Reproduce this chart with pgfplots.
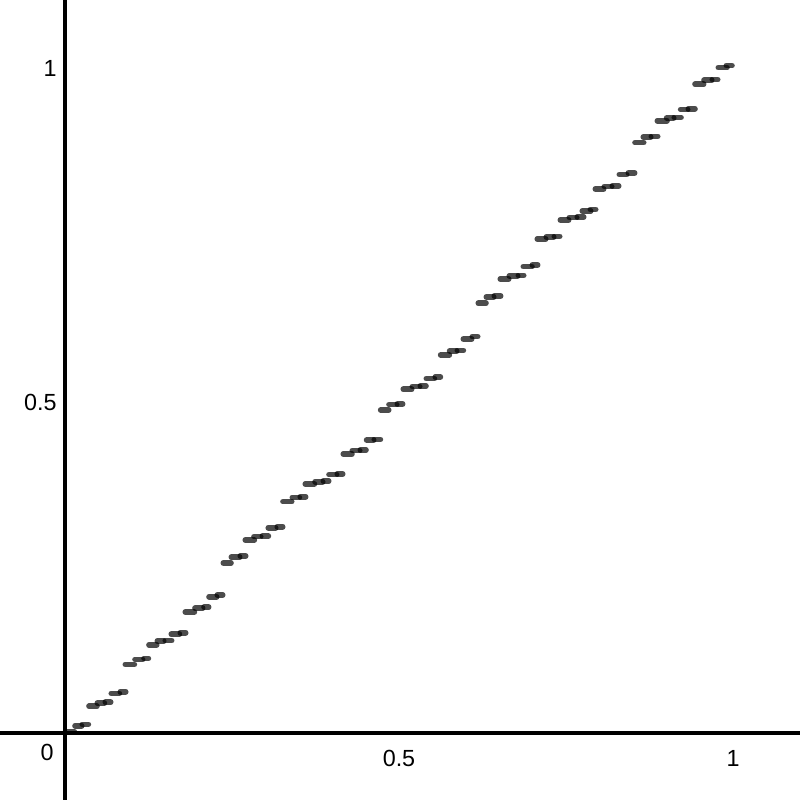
\documentclass[border=0pt]{standalone}
\usepackage{pgfplots}
\pgfplotsset{compat=1.18}
\usepackage{fontspec}
\setmainfont{Liberation Sans}

% one short horizontal step: x from, x to, y
\newcommand{\seg}[3]{\addplot[stepseg] coordinates {(#1,#3) (#2,#3)};}

\begin{document}
\begin{tikzpicture}
\begin{axis}[
  scale only axis,
  width=10cm, height=10cm,
  xmin=-0.0973, xmax=1.1003,
  ymin=-0.1003, ymax=1.0973,
  axis lines=middle,
  axis line style={-, black, line width=1.1pt},
  xtick={0.5,1}, ytick={0.5,1},
  xticklabels={0.5,1}, yticklabels={0.5,1},
  major tick length=0pt,
  tick label style={font=\fontsize{8.3}{10}\selectfont, inner sep=0pt},
  xticklabel style={anchor=center, yshift=-9pt},
  yticklabel style={anchor=east, xshift=-2.8pt, yshift=-1.2pt},
  clip=false,
  stepseg/.style={black, opacity=0.7, line width=2pt, line cap=round, mark=none},
]
\seg{0.0004}{0.0141}{0.0019}
\seg{0.0150}{0.0250}{0.0109}
\seg{0.0259}{0.0350}{0.0130}
\seg{0.0359}{0.0479}{0.0400}
\seg{0.0484}{0.0590}{0.0445}
\seg{0.0603}{0.0684}{0.0460}
\seg{0.0693}{0.0814}{0.0594}
\seg{0.0828}{0.0909}{0.0618}
\seg{0.0903}{0.1039}{0.1028}
\seg{0.1048}{0.1163}{0.1103}
\seg{0.1183}{0.1249}{0.1118}
\seg{0.1257}{0.1373}{0.1320}
\seg{0.1382}{0.1478}{0.1377}
\seg{0.1501}{0.1597}{0.1382}
\seg{0.1591}{0.1713}{0.1478}
\seg{0.1726}{0.1807}{0.1501}
\seg{0.1801}{0.1937}{0.1811}
\seg{0.1946}{0.2061}{0.1867}
\seg{0.2081}{0.2151}{0.1882}
\seg{0.2156}{0.2271}{0.2040}
\seg{0.2280}{0.2361}{0.2066}
\seg{0.2370}{0.2485}{0.2545}
\seg{0.2490}{0.2615}{0.2630}
\seg{0.2624}{0.2705}{0.2650}
\seg{0.2699}{0.2835}{0.2889}
\seg{0.2829}{0.2930}{0.2939}
\seg{0.2954}{0.3045}{0.2945}
\seg{0.3043}{0.3154}{0.3073}
\seg{0.3178}{0.3259}{0.3088}
\seg{0.3263}{0.3394}{0.3463}
\seg{0.3403}{0.3509}{0.3528}
\seg{0.3522}{0.3603}{0.3537}
\seg{0.3597}{0.3734}{0.3728}
\seg{0.3743}{0.3858}{0.3762}
\seg{0.3867}{0.3948}{0.3772}
\seg{0.3952}{0.4067}{0.3868}
\seg{0.4076}{0.4157}{0.3877}
\seg{0.4166}{0.4296}{0.4177}
\seg{0.4301}{0.4412}{0.4228}
\seg{0.4421}{0.4506}{0.4237}
\seg{0.4515}{0.4621}{0.4386}
\seg{0.4630}{0.4722}{0.4395}
\seg{0.4725}{0.4846}{0.4835}
\seg{0.4850}{0.4966}{0.4916}
\seg{0.4975}{0.5055}{0.4925}
\seg{0.5064}{0.5190}{0.5145}
\seg{0.5199}{0.5310}{0.5186}
\seg{0.5319}{0.5404}{0.5195}
\seg{0.5409}{0.5530}{0.5304}
\seg{0.5543}{0.5620}{0.5329}
\seg{0.5623}{0.5754}{0.5659}
\seg{0.5757}{0.5864}{0.5719}
\seg{0.5873}{0.5964}{0.5728}
\seg{0.5963}{0.6088}{0.5898}
\seg{0.6097}{0.6178}{0.5933}
\seg{0.6187}{0.6302}{0.6433}
\seg{0.6307}{0.6418}{0.6527}
\seg{0.6427}{0.6522}{0.6542}
\seg{0.6516}{0.6642}{0.6796}
\seg{0.6651}{0.6777}{0.6843}
\seg{0.6786}{0.6867}{0.6850}
\seg{0.6861}{0.6991}{0.6981}
\seg{0.6996}{0.7076}{0.7006}
\seg{0.7070}{0.7196}{0.7395}
\seg{0.7205}{0.7316}{0.7425}
\seg{0.7325}{0.7406}{0.7433}
\seg{0.7415}{0.7540}{0.7680}
\seg{0.7549}{0.7660}{0.7717}
\seg{0.7669}{0.7765}{0.7725}
\seg{0.7744}{0.7870}{0.7814}
\seg{0.7864}{0.7945}{0.7837}
\seg{0.7939}{0.8064}{0.8144}
\seg{0.8073}{0.8184}{0.8181}
\seg{0.8193}{0.8289}{0.8189}
\seg{0.8298}{0.8409}{0.8361}
\seg{0.8433}{0.8528}{0.8383}
\seg{0.8533}{0.8663}{0.8837}
\seg{0.8657}{0.8768}{0.8922}
\seg{0.8777}{0.8873}{0.8931}
\seg{0.8867}{0.9012}{0.9166}
\seg{0.9006}{0.9112}{0.9207}
\seg{0.9121}{0.9222}{0.9216}
\seg{0.9216}{0.9322}{0.9335}
\seg{0.9331}{0.9431}{0.9344}
\seg{0.9431}{0.9561}{0.9711}
\seg{0.9566}{0.9681}{0.9771}
\seg{0.9690}{0.9771}{0.9780}
\seg{0.9780}{0.9910}{0.9960}
\seg{0.9900}{0.9985}{0.9990}
\node[font=\fontsize{8.3}{10}\selectfont, inner sep=0pt, anchor=center,
  xshift=-6.4pt, yshift=-6.8pt] at (axis cs:0,0) {0};
\end{axis}
\pgfresetboundingbox
\path (current axis.south west) rectangle (current axis.north east);
\end{tikzpicture}
\end{document}
